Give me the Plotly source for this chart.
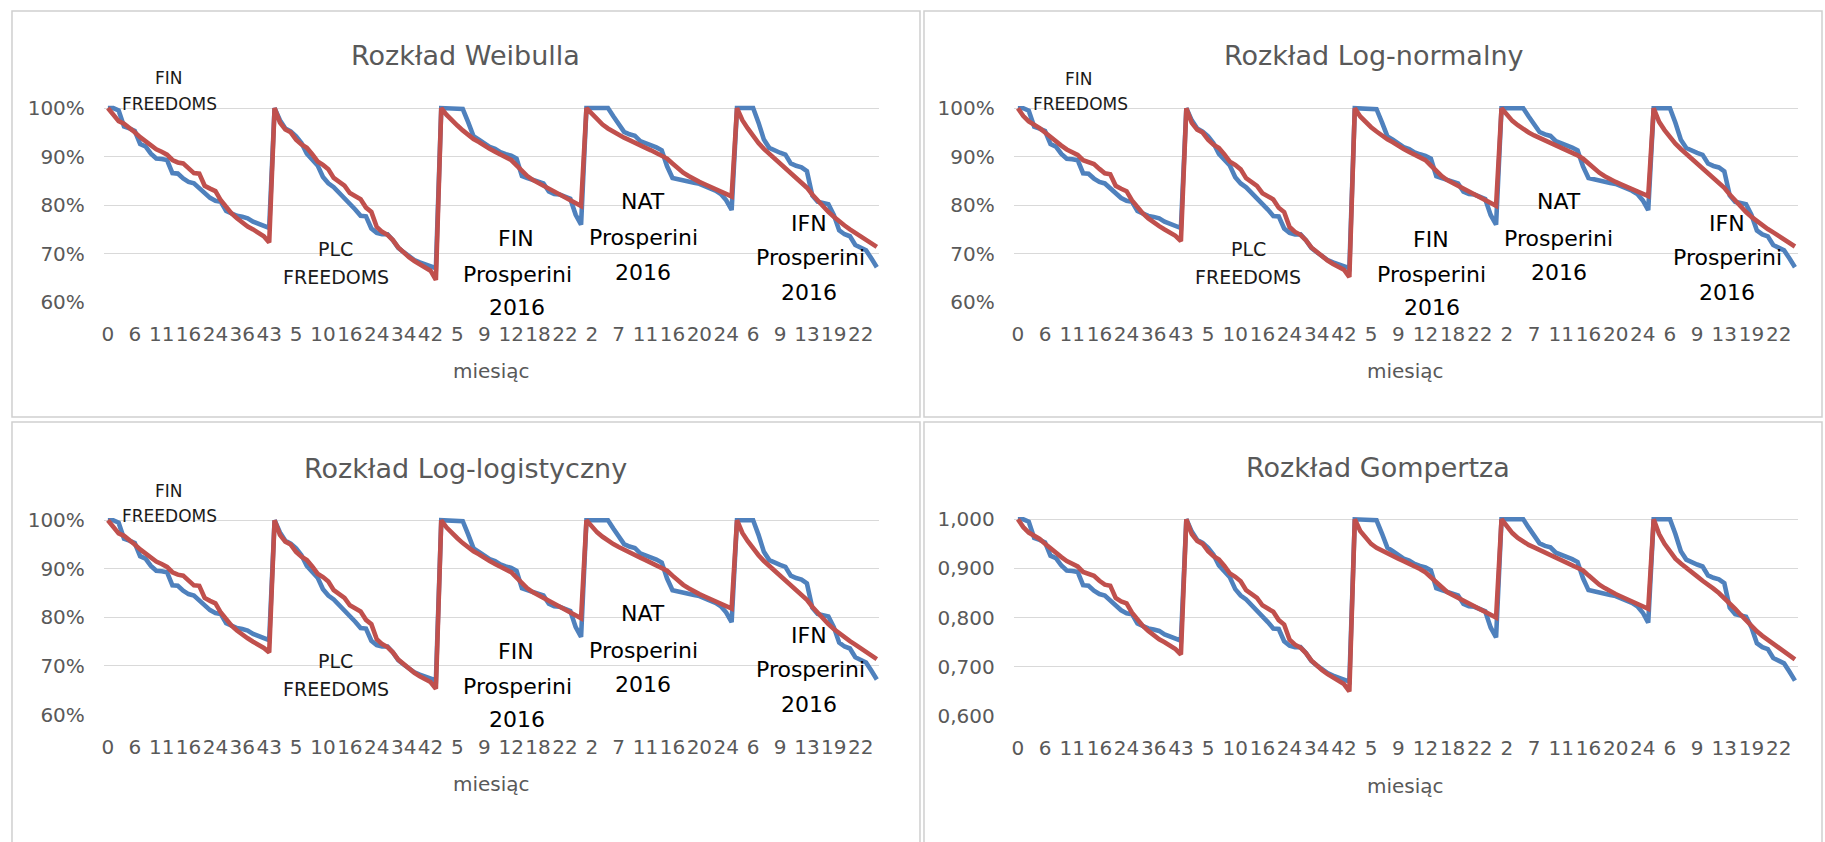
import plotly.graph_objects as go

W, H = 1825, 842

# ---------------- data ----------------
tick_idx = list(range(0, 141, 5))
tick_labels = ["0", "6", "11", "16", "24", "36", "43", "5", "10", "16", "24", "34", "42",
               "5", "9", "12", "18", "22", "2", "7", "11", "16", "20", "24",
               "6", "9", "13", "19", "22"]

# observed (Kaplan-Meier) survival, %, per trial segment
obs_fin_freedoms = [100, 100, 99.5, 96.2, 95.8, 95.3, 92.6, 92.1, 90.6, 89.6, 89.5, 89.3, 86.6, 86.5, 85.5,
                    84.8, 84.5, 83.5, 82.3, 81.5, 80.9, 80.7, 78.8, 78.3, 77.8, 77.6, 77.3, 76.6, 76.2, 75.7, 75.3]
obs_plc_freedoms = [100, 97.5, 95.8, 95.2, 94.2, 92.8, 90.6, 89.5, 88.2, 85.8, 84.5, 83.7, 82.6, 81.2, 80.3,
                    79.1, 77.8, 77.7, 75.2, 74.3, 74.0, 74.0, 72.8, 71.2, 70.3, 69.5, 68.7, 68.2, 67.8, 67.3, 67.0]
obs_fin_prosperini = [100, 100, 100, 100, 99.8, 97.1, 94.2, 93.5, 92.8, 92.0, 91.6, 90.9, 90.5, 90.2, 89.6,
                      86.0, 85.6, 85.2, 84.7, 84.5, 82.8, 82.3, 82.2, 81.8, 81.3, 78.0, 76.0]
obs_nat_prosperini = [100, 100, 100, 100, 100, 98.3, 96.5, 95.1, 94.6, 94.3, 93.2, 92.8, 92.3, 91.9, 91.3,
                      88.0, 85.6, 85.3, 85.0, 84.7, 84.6, 84.4, 84.0, 83.5, 83.0, 82.3, 81.0, 79.0]
obs_ifn_prosperini = [100, 100, 100, 100, 97.0, 93.5, 91.8, 91.2, 90.8, 90.4, 88.6, 88.1, 87.8, 87.0, 82.0,
                      80.7, 80.5, 80.2, 78.0, 74.8, 74.0, 73.6, 71.8, 71.2, 70.7, 69.0, 67.2]

# fitted survival, %, Weibull
weib_fin_freedoms = [100, 98.5, 97.3, 96.8, 96.0, 95.0, 94.0, 93.2, 92.3, 91.5, 91.0, 90.4, 89.3, 88.8, 88.6,
                     87.5, 86.6, 86.5, 84.0, 83.4, 82.9, 81.0, 79.5, 78.3, 77.3, 76.3, 75.6, 75.0, 74.3, 73.6, 72.3]
weib_plc_freedoms = [100, 97.0, 95.6, 95.0, 93.5, 92.5, 91.8, 90.5, 89.0, 88.3, 87.4, 85.6, 84.8, 84.0, 82.5,
                     81.8, 81.2, 79.5, 78.6, 75.5, 74.5, 73.9, 72.8, 71.3, 70.2, 69.3, 68.5, 67.8, 67.2, 66.5, 64.6]
weib_fin_prosperini = [100, 98.6, 97.4, 96.4, 95.4, 94.4, 93.6, 93.0, 92.2, 91.6, 91.0, 90.5, 89.9, 89.3, 88.2,
                       87.0, 86.0, 85.2, 84.6, 84.0, 83.5, 82.9, 82.3, 81.8, 81.2, 80.6, 79.8]
weib_nat_prosperini = [100, 98.8, 97.6, 96.6, 95.8, 95.1, 94.5, 93.9, 93.4, 92.8, 92.3, 91.8, 91.3, 90.8, 90.3,
                       89.6, 88.6, 87.6, 86.7, 86.0, 85.3, 84.8, 84.3, 83.8, 83.3, 82.8, 82.3, 81.8]
weib_ifn_prosperini = [100, 97.5, 95.8, 94.2, 92.8, 91.6, 90.6, 89.6, 88.7, 87.8, 86.8, 85.8, 84.7, 83.6, 82.2,
                       80.9, 79.7, 78.6, 77.6, 76.6, 75.8, 75.0, 74.3, 73.6, 72.9, 72.2, 71.4]

# fitted survival, %, Log-normal
lnorm_fin_freedoms = [100, 98.4, 97.3, 96.7, 95.9, 95.0, 94.0, 93.2, 92.3, 91.5, 91.0, 90.4, 89.3, 88.8, 88.5,
                      87.5, 86.6, 86.4, 84.0, 83.4, 82.9, 81.0, 79.5, 78.3, 77.3, 76.4, 75.7, 75.0, 74.4, 73.7, 72.6]
lnorm_plc_freedoms = [100, 97.0, 95.6, 95.0, 93.5, 92.5, 91.8, 90.5, 89.0, 88.3, 87.4, 85.6, 84.8, 84.0, 82.5,
                      81.8, 81.2, 79.5, 78.6, 75.5, 74.5, 73.9, 72.8, 71.3, 70.3, 69.4, 68.6, 67.9, 67.3, 66.7, 65.2]
lnorm_fin_prosperini = [100, 98.3, 97.1, 96.1, 95.2, 94.3, 93.6, 93.0, 92.2, 91.6, 91.0, 90.5, 89.9, 89.3, 88.2,
                        87.0, 86.0, 85.2, 84.6, 84.0, 83.5, 82.9, 82.3, 81.8, 81.2, 80.6, 79.9]
lnorm_nat_prosperini = [100, 98.6, 97.4, 96.5, 95.7, 95.0, 94.4, 93.9, 93.4, 92.8, 92.3, 91.8, 91.3, 90.8, 90.3,
                        89.6, 88.6, 87.6, 86.7, 86.0, 85.3, 84.8, 84.3, 83.8, 83.3, 82.8, 82.3, 81.9]
lnorm_ifn_prosperini = [100, 97.2, 95.5, 94.0, 92.7, 91.6, 90.6, 89.6, 88.7, 87.8, 86.8, 85.8, 84.7, 83.6, 82.2,
                        80.9, 79.7, 78.6, 77.6, 76.7, 75.9, 75.1, 74.4, 73.7, 73.0, 72.3, 71.5]

# fitted survival, %, Log-logistic
llog_fin_freedoms = [100, 98.5, 97.3, 96.8, 96.0, 95.0, 94.0, 93.2, 92.3, 91.5, 91.0, 90.4, 89.3, 88.8, 88.6,
                     87.5, 86.6, 86.5, 84.0, 83.4, 82.9, 81.0, 79.5, 78.3, 77.3, 76.4, 75.7, 75.0, 74.4, 73.7, 72.8]
llog_plc_freedoms = [100, 97.0, 95.6, 95.0, 93.5, 92.5, 91.8, 90.5, 89.0, 88.3, 87.4, 85.6, 84.8, 84.0, 82.5,
                     81.8, 81.2, 79.5, 78.6, 75.5, 74.5, 73.9, 72.8, 71.3, 70.3, 69.4, 68.6, 67.9, 67.3, 66.7, 65.3]
llog_fin_prosperini = [100, 98.5, 97.3, 96.3, 95.3, 94.4, 93.6, 93.0, 92.2, 91.6, 91.0, 90.5, 89.9, 89.3, 88.2,
                       87.0, 86.0, 85.2, 84.6, 84.0, 83.5, 82.9, 82.3, 81.8, 81.2, 80.6, 79.8]
llog_nat_prosperini = [100, 98.7, 97.5, 96.6, 95.8, 95.1, 94.5, 93.9, 93.4, 92.8, 92.3, 91.8, 91.3, 90.8, 90.3,
                       89.6, 88.6, 87.6, 86.7, 86.0, 85.3, 84.8, 84.3, 83.8, 83.3, 82.8, 82.3, 81.8]
llog_ifn_prosperini = [100, 97.4, 95.7, 94.1, 92.8, 91.6, 90.6, 89.6, 88.7, 87.8, 86.8, 85.8, 84.7, 83.6, 82.2,
                       80.9, 79.7, 78.6, 77.6, 76.7, 75.9, 75.1, 74.4, 73.7, 73.0, 72.3, 71.4]

# fitted survival (fraction x100), Gompertz
gomp_fin_freedoms = [100, 98.4, 97.3, 96.7, 96.0, 95.0, 94.0, 93.2, 92.3, 91.5, 91.0, 90.4, 89.3, 88.8, 88.5,
                     87.5, 86.7, 86.5, 84.0, 83.3, 82.9, 81.0, 79.5, 78.3, 77.3, 76.3, 75.6, 75.0, 74.3, 73.6, 72.5]
gomp_plc_freedoms = [100, 97.0, 95.6, 95.0, 93.5, 92.5, 91.8, 90.5, 89.0, 88.3, 87.4, 85.6, 84.8, 84.0, 82.5,
                     81.8, 81.2, 79.5, 78.6, 75.5, 74.5, 73.9, 72.8, 71.3, 70.2, 69.3, 68.5, 67.8, 67.2, 66.5, 65.0]
gomp_fin_prosperini = [100, 97.6, 96.2, 95.0, 94.2, 93.6, 93.0, 92.5, 92.0, 91.5, 91.0, 90.5, 89.9, 89.2, 88.2,
                       87.0, 86.0, 85.2, 84.6, 84.0, 83.5, 82.9, 82.3, 81.8, 81.2, 80.6, 80.0]
gomp_nat_prosperini = [100, 98.5, 97.2, 96.2, 95.4, 94.8, 94.3, 93.8, 93.3, 92.8, 92.3, 91.8, 91.3, 90.8, 90.3,
                       89.6, 88.6, 87.6, 86.7, 86.0, 85.3, 84.8, 84.3, 83.8, 83.3, 82.8, 82.3, 81.8]
gomp_ifn_prosperini = [100, 97.0, 95.0, 93.3, 92.0, 91.0, 90.2, 89.3, 88.4, 87.5, 86.8, 85.9, 85.0, 84.0, 83.0,
                       81.8, 80.6, 79.4, 78.2, 77.2, 76.3, 75.5, 74.7, 73.9, 73.1, 72.3, 71.5]

panel_titles = ["Rozkład Weibulla", "Rozkład Log-normalny", "Rozkład Log-logistyczny", "Rozkład Gompertza"]
axis_title = "miesiąc"
pct_ticks = [60, 70, 80, 90, 100]
pct_text = ["60%", "70%", "80%", "90%", "100%"]
dec_text = ["0,600", "0,700", "0,800", "0,900", "1,000"]

observed = (obs_fin_freedoms + obs_plc_freedoms + obs_fin_prosperini
            + obs_nat_prosperini + obs_ifn_prosperini)
fitted = [
    weib_fin_freedoms + weib_plc_freedoms + weib_fin_prosperini + weib_nat_prosperini + weib_ifn_prosperini,
    lnorm_fin_freedoms + lnorm_plc_freedoms + lnorm_fin_prosperini + lnorm_nat_prosperini + lnorm_ifn_prosperini,
    llog_fin_freedoms + llog_plc_freedoms + llog_fin_prosperini + llog_nat_prosperini + llog_ifn_prosperini,
    gomp_fin_freedoms + gomp_plc_freedoms + gomp_fin_prosperini + gomp_nat_prosperini + gomp_ifn_prosperini,
]
xs = list(range(len(observed)))

# ---------------- layout helpers ----------------
BLUE = "#4F81BD"
RED = "#C0504D"
GRID = "#D9D9D9"
TXT = "#595959"
FONT = "DejaVu Sans"

def px_x(p):
    return p / W

def px_y(p):
    return 1 - p / H

# panel geometry: (x of first category, category step, y of 100%, y of 60%)
panels = [
    (106.0, 5.383, 104.3, 302.7),
    (1017.0, 5.44, 104.5, 302.7),
    (106.0, 5.383, 525.5, 724.0),
    (1017.0, 5.44, 524.5, 725.5),
]
XR = (-0.75, 143.5)
YR = (60, 101.2)

fig = go.Figure()
layout_axes = {}
for k, (x0, dx, y100, y60) in enumerate(panels):
    n = "" if k == 0 else str(k + 1)
    per = (y60 - y100) / 40.0
    xdom = [px_x(x0 + XR[0] * dx), px_x(x0 + XR[1] * dx)]
    ydom = [px_y(y60), px_y(y100 - (YR[1] - 100) * per)]
    layout_axes["xaxis" + n] = dict(
        domain=xdom, range=list(XR), anchor="y" + n,
        tickmode="array", tickvals=tick_idx, ticktext=tick_labels, tickangle=0,
        showgrid=False, zeroline=False, showline=False, ticks="",
        tickfont=dict(family=FONT, size=20, color=TXT), ticklabelstandoff=18,
    )
    layout_axes["yaxis" + n] = dict(
        domain=ydom, range=list(YR), anchor="x" + n,
        tickmode="array", tickvals=pct_ticks, ticktext=(dec_text if k == 3 else pct_text),
        showgrid=True, gridcolor=GRID, gridwidth=1, zeroline=False, showline=False, ticks="",
        tickfont=dict(family=FONT, size=20, color=TXT), ticklabelstandoff=18,
    )
    fig.add_trace(go.Scatter(x=xs, y=observed, mode="lines", xaxis="x" + n, yaxis="y" + n,
                             line=dict(color=BLUE, width=4.6), showlegend=False, hoverinfo="skip"))
    fig.add_trace(go.Scatter(x=xs, y=fitted[k], mode="lines", xaxis="x" + n, yaxis="y" + n,
                             line=dict(color=RED, width=4.6), showlegend=False, hoverinfo="skip"))

annotations = []

def ann(text, x, y, size, color):
    annotations.append(dict(text=text, x=px_x(x), y=px_y(y), xref="paper", yref="paper",
                            xanchor="center", yanchor="middle", showarrow=False,
                            font=dict(family=FONT, size=size, color=color)))

# titles and axis titles
title_pos = [(464, 51), (1374, 51), (464, 473), (1378, 472)]
axt_pos = [(490, 373), (1405, 373), (490, 795), (1405, 797)]
for k in range(4):
    ann(panel_titles[k], title_pos[k][0], title_pos[k][1], 27, TXT)
    ann(axis_title, axt_pos[k][0], axt_pos[k][1], 20, TXT)

# segment labels (positions given in the top-left panel's pixels)
labels_tl = [
    ("FIN", 167, 74, 17), ("FREEDOMS", 168, 100, 17),
    ("PLC", 334, 248, 19), ("FREEDOMS", 334, 277, 19),
    ("FIN", 515, 238, 22), ("Prosperini", 516, 274, 22), ("2016", 516, 308, 22),
    ("NAT", 642, 200, 22), ("Prosperini", 642, 237, 22), ("2016", 642, 272, 22),
    ("IFN", 808, 222, 22), ("Prosperini", 809, 257, 22), ("2016", 808, 293, 22),
]
for k in range(3):
    x0, dx, y100, y60 = panels[k]
    for text, lx, ly, sz in labels_tl:
        idx = (lx - 106.0) / 5.383
        ax = x0 + idx * dx
        ay = y100 + (ly - 104.3)
        col = "#1a1a1a" if sz < 20 else "#000000"
        ann(text, ax, ay, sz, col)

# panel frames
shapes = []
frames = [(10, 5, 919, 420), (923, 5, 1822, 420), (10, 425, 919, 900), (923, 425, 1822, 900)]
for (a, b, c, d) in frames:
    shapes.append(dict(type="rect", xref="paper", yref="paper",
                       x0=px_x(a), x1=px_x(c), y0=px_y(d), y1=px_y(b),
                       line=dict(color="#CFCFCF", width=1.5), fillcolor="rgba(0,0,0,0)", layer="below"))

fig.update_layout(
    width=W, height=H, margin=dict(l=0, r=0, t=0, b=0),
    paper_bgcolor="white", plot_bgcolor="white",
    annotations=annotations, shapes=shapes, showlegend=False,
    **layout_axes,
)

fig.write_html("out.html", config={"displayModeBar": False})
